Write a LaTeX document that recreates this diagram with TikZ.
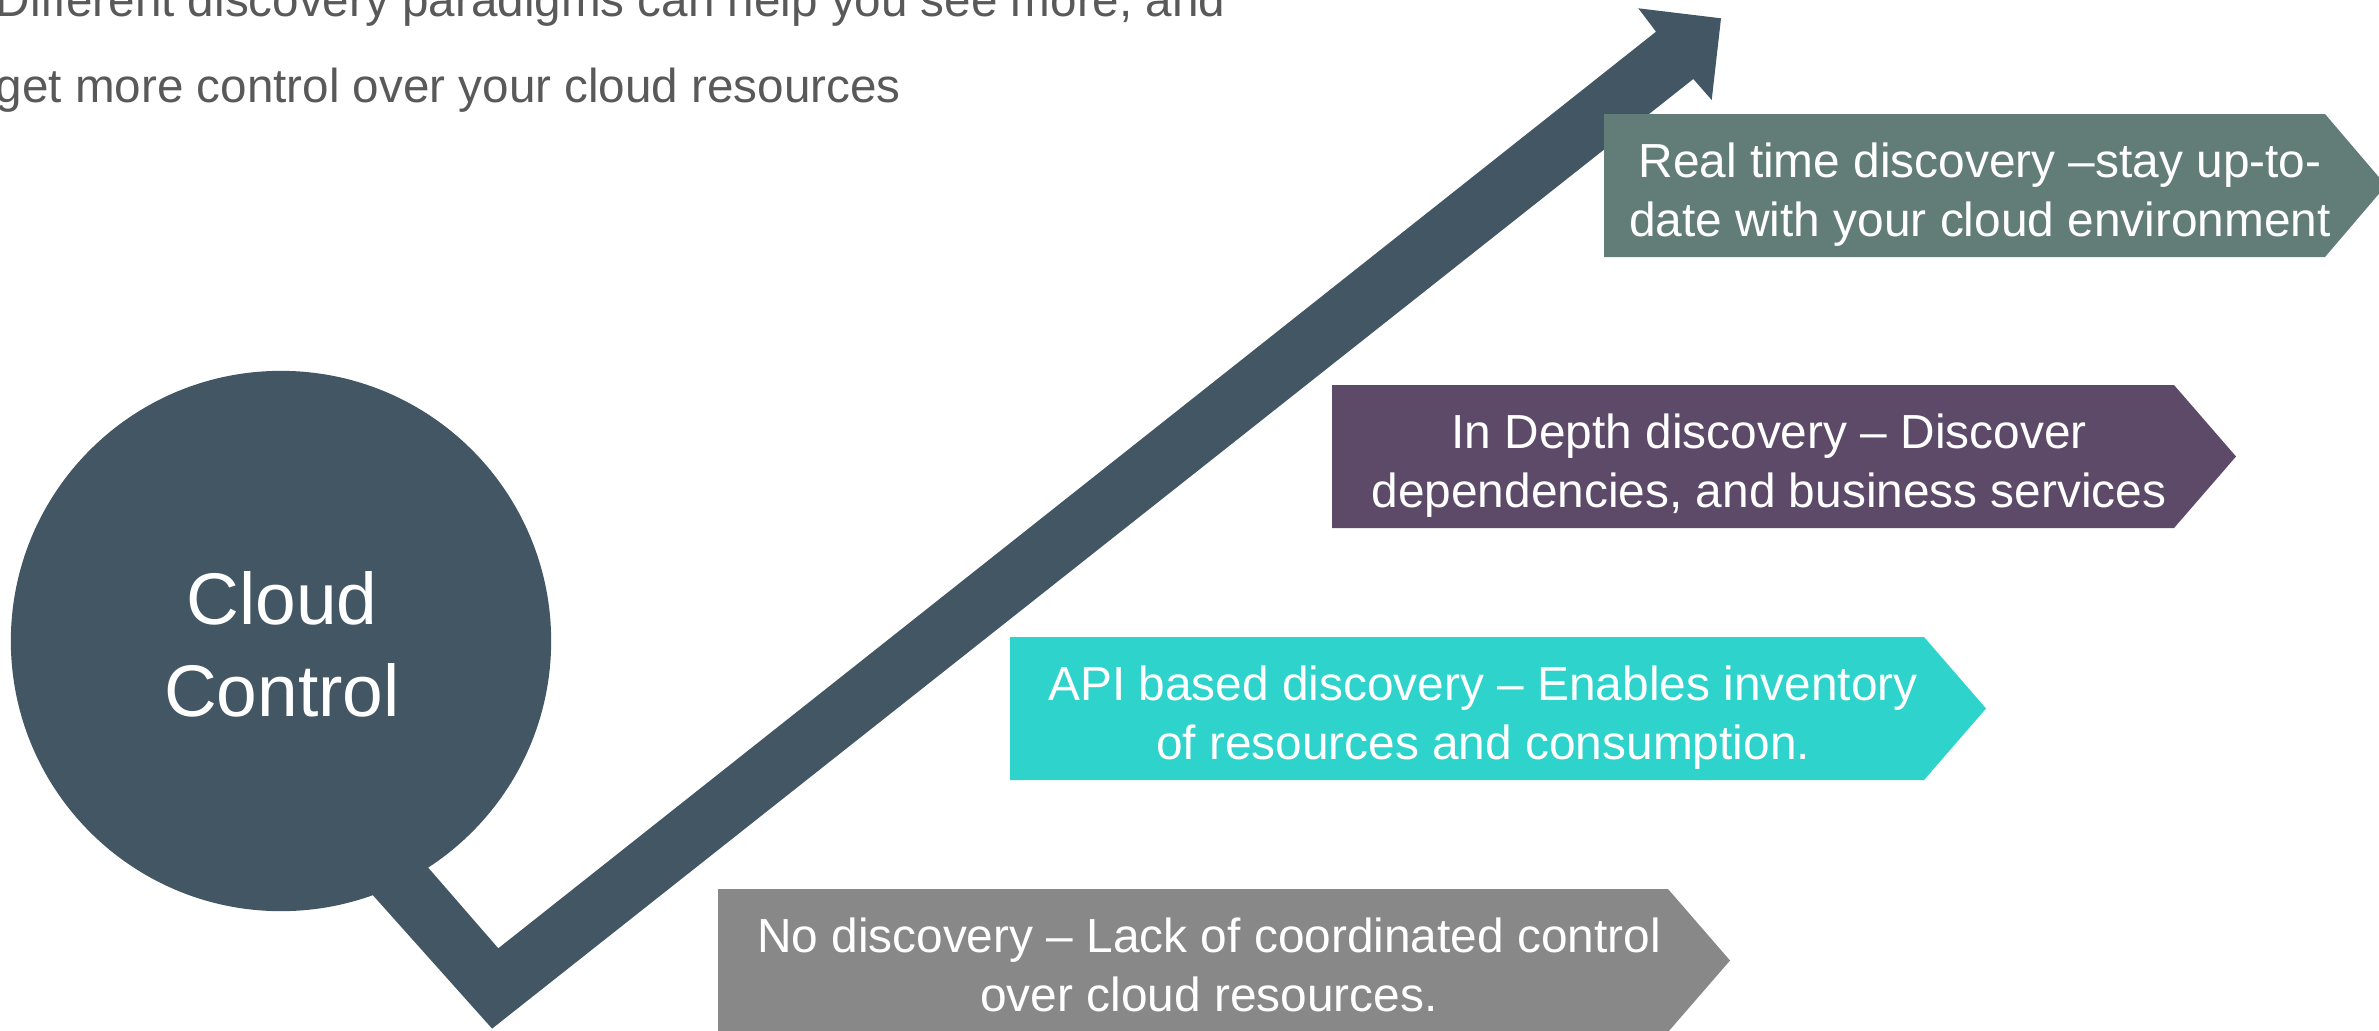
\documentclass[tikz,border=0pt]{standalone}
\usepackage{fontspec}
\setmainfont{Liberation Sans}
\definecolor{slate}{HTML}{435663}
\definecolor{sage}{HTML}{627D77}
\definecolor{plum}{HTML}{5D4968}
\definecolor{aqua}{HTML}{2ED3CB}
\definecolor{stone}{HTML}{888888}
\definecolor{titlegray}{HTML}{595959}
\begin{document}
\begin{tikzpicture}[x=0.01cm, y=-0.01cm,
  bodytext/.style={text=white, align=center, inner sep=0pt,
    font={\fontsize{13.6pt}{16.8pt}\selectfont}},
  hubtext/.style={text=white, align=center, inner sep=0pt,
    font={\fontsize{20.8pt}{25.9pt}\selectfont}},
  titletext/.style={text=titlegray, align=left, inner sep=0pt, anchor=west,
    font={\fontsize{13.54pt}{24.2pt}\selectfont}},
]
\useasboundingbox (0,0) rectangle (2379,1030);
\clip (0,0) rectangle (2379,1030);

% title
\node[titletext] (title) at (-5,42.5)
  {\strut Different discovery paradigms can help you see more, and\\
   \strut get more control over your cloud resources};

% hub circle
\node[circle, fill=slate, minimum size=5.4cm, inner sep=0pt] (hub) at (281,641) {};

% arrow (check-mark shaped)
\coordinate (a1) at (330,847.2);
\coordinate (a2) at (492.1,1028.6);
\coordinate (a3) at (1693.3,79);
\coordinate (a4) at (1711.7,100);
\coordinate (a5) at (1721,18.3);
\coordinate (a6) at (1638.3,8.3);
\coordinate (a7) at (1656,31.7);
\coordinate (a8) at (498.3,948.3);
\coordinate (a9) at (385,817.9);
\fill[slate] (a1) -- (a2) -- (a3) -- (a4) -- (a5) -- (a6) -- (a7) -- (a8) -- (a9) -- cycle;

\node[hubtext] (hublabel) at (282,652.3) {\strut Cloud\\\strut Control};

% pentagon tags
\fill[sage]  (1604,114) -- (2325,114) -- (2386,185.5) -- (2325,257) -- (1604,257) -- cycle;
\fill[plum]  (1332,385) -- (2174,385) -- (2236,456.5) -- (2174,528) -- (1332,528) -- cycle;
\fill[aqua]  (1010,637) -- (1924,637) -- (1986,708.5) -- (1924,780) -- (1010,780) -- cycle;
\fill[stone] (718,889)  -- (1668,889) -- (1730,960.5) -- (1668,1032) -- (718,1032) -- cycle;

\node[bodytext] (realtime) at (1980,194.8)
  {\strut Real time discovery –stay up-to-\\\strut date with your cloud environment};
\node[bodytext] (indepth) at (1769,465.8)
  {\strut In Depth discovery – Discover\\\strut dependencies, and business services};
\node[bodytext] (apibased) at (1483,717.8)
  {\strut API based discovery – Enables inventory\\\strut of resources and consumption.};
\node[bodytext] (nodisc) at (1209,969.8)
  {\strut No discovery – Lack of coordinated control\\\strut over cloud resources.};
\end{tikzpicture}
\end{document}
